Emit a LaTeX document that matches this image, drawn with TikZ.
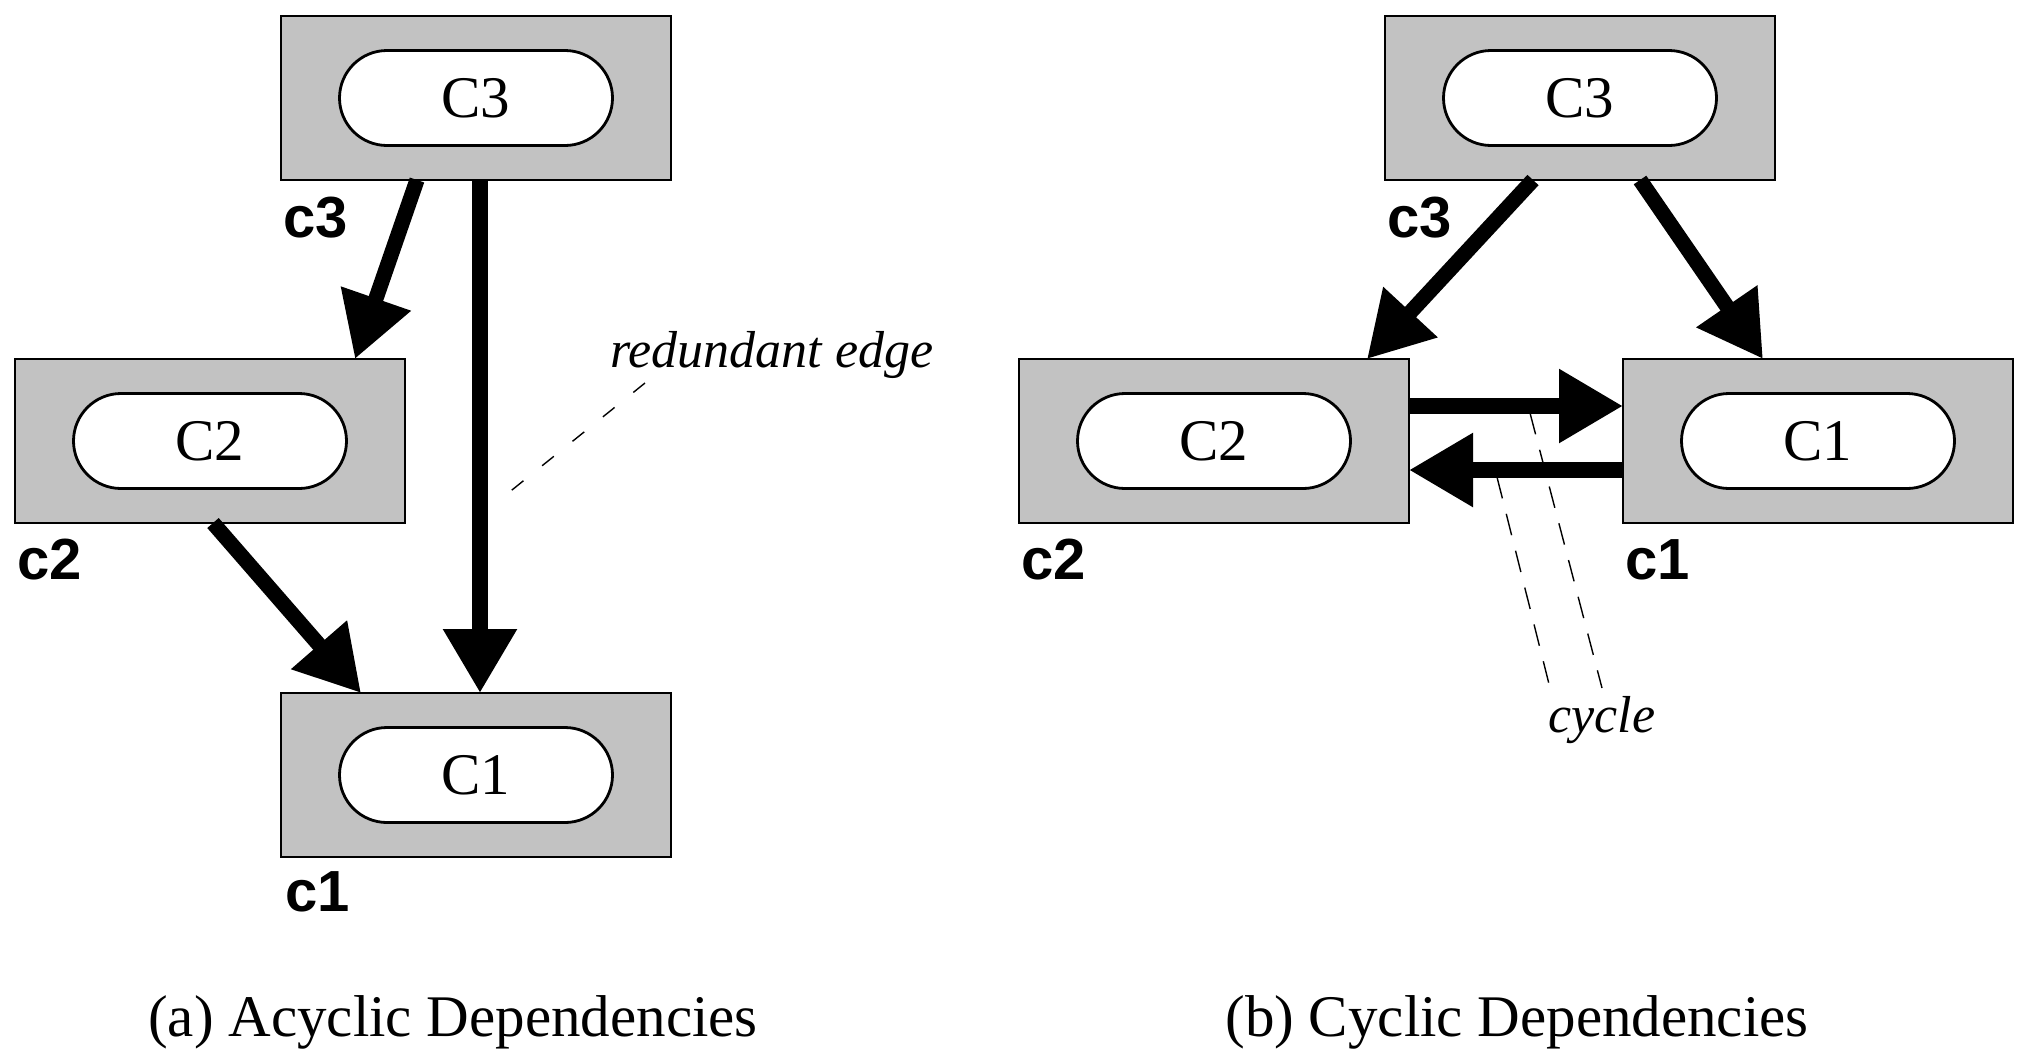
\documentclass[tikz,border=0pt]{standalone}
\usepackage{fontspec}
\setmainfont{Liberation Serif}
\newfontfamily\labfont{Liberation Sans}
\usetikzlibrary{arrows.meta,shapes.misc,calc}
\tikzset{
 comp/.style={draw=black, line width=0.75pt, fill=black!24, minimum width=195pt, minimum height=82pt, outer sep=0pt, inner sep=0pt},
 cls/.style={rounded rectangle, draw=black, line width=1.4pt, fill=white, minimum width=136.5pt, minimum height=47.5pt, inner sep=0pt, font=\fontsize{29.5}{34}\selectfont},
 lab/.style={anchor=base west, inner sep=0pt, font=\labfont\bfseries\fontsize{29}{33}\selectfont},
 dep/.style={line width=7.6pt, -{Triangle[length=32pt,width=35pt]}},
 note/.style={anchor=base west, inner sep=0pt, font=\itshape\fontsize{26}{30}\selectfont},
 captext/.style={anchor=base, inner sep=0pt, font=\fontsize{29.5}{34}\selectfont},
 hintA/.style={line width=0.7pt, dash pattern=on 7.5pt off 12pt},
 hintB/.style={line width=0.7pt, dash pattern=on 11pt off 8pt}
}
\begin{document}
\begin{tikzpicture}[x=0.5pt,y=-0.5pt]
\useasboundingbox (0,0) rectangle (2024,1051);
% ---------- (a) acyclic ----------
\node[comp] (b3a) at (476,98) {};
\node[cls] (p3a) at (b3a) {C3};
\node[comp] (b2a) at (210,441) {};
\node[cls] (p2a) at (b2a) {C2};
\node[comp] (b1a) at (476,775) {};
\node[cls] (p1a) at (b1a) {C1};
\node[lab] (l3a) at ($(b3a.south west)+(2,57)$) {c3};
\node[lab] (l2a) at ($(b2a.south west)+(2,56)$) {c2};
\node[lab] (l1a) at ($(b1a.south west)+(4,54)$) {c1};
\node[note] (red) at (610,367) {redundant edge};
\coordinate (redA) at ($(red.base west)+(35,16)$);
\coordinate (redB) at (502,498);
\draw[hintA] (redA) -- (redB);
\draw[dep] ($(b3a.south)+(-59,0)$) -- ($(b2a.north)+(145,0)$);
\draw[dep] ($(b3a.south)+(4,0)$) -- ($(b1a.north)+(4,0)$);
\draw[dep] ($(b2a.south)+(3,0)$) -- ($(b1a.north)+(-115,0)$);
\node[captext] (capa) at (453,1036) {(a) Acyclic Dependencies};
% ---------- (b) cyclic ----------
\node[comp] (b3b) at (1580,98) {};
\node[cls] (p3b) at (b3b) {C3};
\node[comp] (b2b) at (1214,441) {};
\node[cls] (p2b) at (b2b) {C2};
\node[comp] (b1b) at (1818,441) {};
\node[cls] (p1b) at (b1b) {C1};
\node[lab] (l3b) at ($(b3b.south west)+(2,57)$) {c3};
\node[lab] (l2b) at ($(b2b.south west)+(2,56)$) {c2};
\node[lab] (l1b) at ($(b1b.south west)+(2,56)$) {c1};
\node[note] (cyc) at (1548,732) {cycle};
\coordinate (cA1) at (1530,413);
\coordinate (cA2) at (1602,688);
\coordinate (cB1) at (1497,477);
\coordinate (cB2) at (1550,688);
\draw[hintB] (cA1) -- (cA2);
\draw[hintB] (cB1) -- (cB2);
\draw[dep] ($(b3b.south)+(-47,0)$) -- ($(b2b.north)+(153,0)$);
\draw[dep] ($(b3b.south)+(60,0)$) -- ($(b1b.north)+(-55,0)$);
\draw[dep] ($(b2b.east)+(0,-35)$) -- ($(b1b.west)+(0,-35)$);
\draw[dep] ($(b1b.west)+(0,29)$) -- ($(b2b.east)+(0,29)$);
\node[captext] (capb) at (1517,1036) {(b) Cyclic Dependencies};
\end{tikzpicture}
\end{document}
